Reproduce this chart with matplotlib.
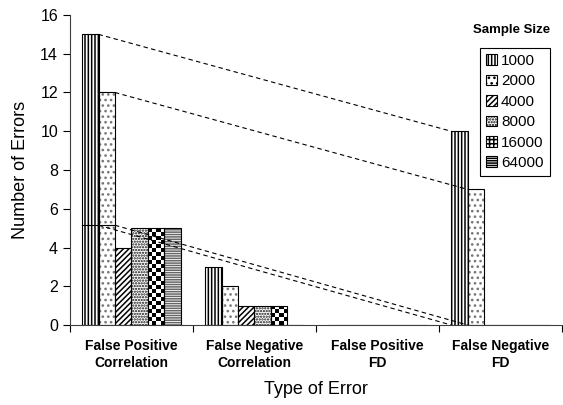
import numpy as np
import matplotlib
matplotlib.use("Agg")
from matplotlib import pyplot as plt
from matplotlib.patches import Patch

plt.rcParams['font.family'] = ['Liberation Sans', 'DejaVu Sans']
plt.rcParams['hatch.linewidth'] = 1.1

# data
categories = ['False Positive\nCorrelation', 'False Negative\nCorrelation',
              'False Positive\nFD', 'False Negative\nFD']
sample_sizes = ['1000', '2000', '4000', '8000', '16000', '64000']
errors = {
    '1000': [15, 3, 0, 10],
    '2000': [12, 2, 0, 7],
    '4000': [4, 1, 0, 0],
    '8000': [5, 1, 0, 0],
    '16000': [5, 1, 0, 0],
    '64000': [5, 0, 0, 0],
}
# connector lines drawn on the original: (series index, start value, end value)
connectors = [(0, 15, 10), (1, 12, 7), (0, 5.15, 0), (1, 5.15, 0)]
flat_line = 5.15

# hatch pattern and hatch colour per series ('' = checkerboard drawn as image)
hatches = ['|||||', '...', '//////', '......', '', '-------']
hatch_colors = ['black', '#777777', 'black', '#111111', 'black', '#666666']
legend_hatches = ['|||||', '...', '//////', '......', '++++', '-------']

fig = plt.figure(figsize=(5.63, 4.05), dpi=100)
ax = fig.add_axes([0.124, 0.1975, 0.874, 0.7655])
ax.set_xlim(0, len(categories))
ax.set_ylim(0, 16)

n = len(sample_sizes)
w = 0.8 / n
x = np.arange(len(categories))
px_per_y = ax.bbox.height / 16
px_per_x = ax.bbox.width / len(categories)

for j, s in enumerate(sample_sizes):
    pos = x + 0.5 + (j - (n - 1) / 2) * w
    ax.bar(pos, errors[s], width=w, facecolor='white',
           edgecolor=hatch_colors[j], hatch=hatches[j], linewidth=0)
    bars = ax.bar(pos, errors[s], width=w, facecolor='none',
                  edgecolor='black', linewidth=0.8, zorder=3)
    if hatches[j] == '':
        # checkerboard fill
        cell = w * px_per_x / 4
        for b, h in zip(bars, errors[s]):
            if h <= 0:
                continue
            rows = max(1, int(round(h * px_per_y / cell)))
            board = np.indices((rows, 4)).sum(axis=0) % 2
            im = ax.imshow(board, cmap='gray', interpolation='nearest',
                           extent=(b.get_x(), b.get_x() + w, 0, h),
                           aspect='auto', zorder=2)
            im.set_clip_path(b)


def left_edge(cat, j):
    return cat + 0.5 + (j - (n - 1) / 2) * w - w / 2


for j, v0, v1 in connectors:
    ax.plot([left_edge(0, j) + w, left_edge(3, j)], [v0, v1],
            color='black', linestyle=(0, (4, 3)), linewidth=0.8, zorder=4)
ax.plot([left_edge(0, 0), left_edge(0, 1) + w], [flat_line, flat_line],
        color='black', linewidth=0.8, zorder=4)

ax.set_xlim(0, len(categories))
ax.set_ylim(0, 16)
ax.set_yticks(np.arange(0, 17, 2))
ax.set_xticks(np.arange(len(categories) + 1))
ax.set_xticklabels([])
ax.set_xticks(x + 0.5, minor=True)
ax.set_xticklabels(categories, minor=True, fontsize=10, fontweight='bold',
                   linespacing=1.3)
ax.tick_params(axis='x', which='minor', length=0, pad=10)
ax.tick_params(axis='both', which='major', length=5, width=0.8,
               labelsize=11.5, direction='out')
for side in ['top', 'right']:
    ax.spines[side].set_visible(False)
ax.spines['left'].set_color('#404040')
ax.spines['bottom'].set_color('#404040')

ax.set_xlabel('Type of Error', fontsize=13, labelpad=8)
ax.set_ylabel('Number of Errors', fontsize=13, labelpad=8)

handles = [Patch(facecolor='white', edgecolor='black', hatch=legend_hatches[j],
                 linewidth=0.8) for j in range(n)]
leg = ax.legend(handles, sample_sizes, loc='upper left',
                bbox_to_anchor=(0.833, 0.894),
                borderaxespad=0, fontsize=11, handlelength=0.7,
                handleheight=0.7, handletextpad=0.3, labelspacing=0.42,
                fancybox=False, edgecolor='black', framealpha=1,
                borderpad=0.4)
leg.get_frame().set_linewidth(0.8)
fig.text(0.908, 0.925, 'Sample Size', fontsize=9.5, fontweight='bold',
         ha='center', va='center')

plt.savefig('out.png', dpi=100)
